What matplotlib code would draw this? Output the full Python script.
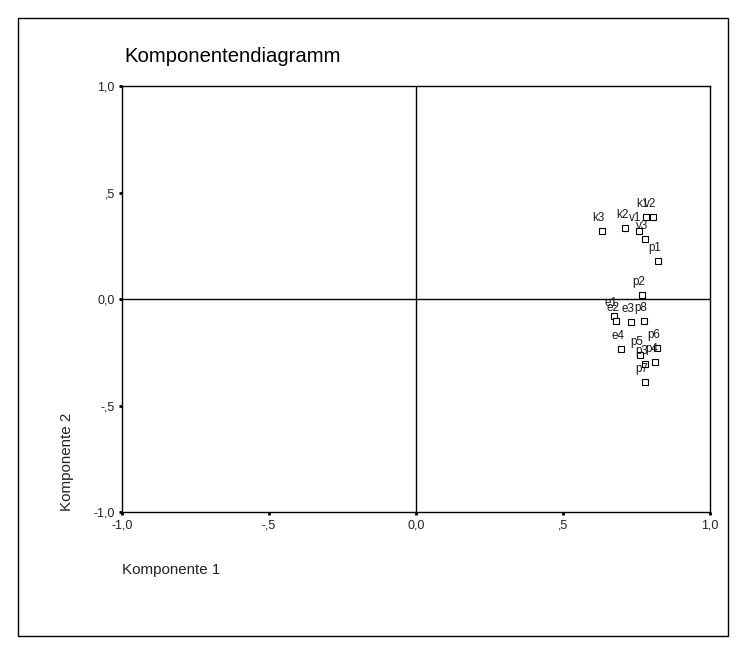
import matplotlib
matplotlib.use("Agg")
import matplotlib.pyplot as plt
from matplotlib.patches import Rectangle

plt.rcParams['font.family'] = ['Liberation Sans', 'DejaVu Sans']

labels = ["k1", "k2", "k3", "v1", "v2", "v3", "p1", "p2", "p3", "p4",
          "p5", "p6", "p7", "p8", "e1", "e2", "e3", "e4"]
comp1 = [0.781, 0.711, 0.632, 0.757, 0.805, 0.779, 0.822, 0.768, 0.778, 0.812,
         0.761, 0.819, 0.778, 0.775, 0.672, 0.681, 0.732, 0.699]
comp2 = [0.385, 0.336, 0.319, 0.319, 0.385, 0.284, 0.180, 0.018, -0.305, -0.297,
         -0.261, -0.228, -0.387, -0.103, -0.080, -0.102, -0.108, -0.233]
ticks = [-1.0, -0.5, 0.0, 0.5, 1.0]
tick_labels = ["-1,0", "-,5", "0,0", ",5", "1,0"]

W, H = 745, 652
fig = plt.figure(figsize=(W / 100, H / 100), dpi=100)
fig.patch.set_facecolor("white")

# outer frame
fig.add_artist(Rectangle((18 / W, 1 - 636 / H), (728 - 18) / W, (636 - 18) / H,
                         transform=fig.transFigure, fill=False, edgecolor="black", lw=1.0))

L, R, T, B = 121.7, 710.0, 86.0, 512.3
ax = fig.add_axes([L / W, 1 - B / H, (R - L) / W, (B - T) / H])
ax.set_xlim(-1, 1)
ax.set_ylim(-1, 1)
for s in ax.spines.values():
    s.set_linewidth(1.0)
    s.set_color("black")
ax.axhline(0, color="black", lw=1.0)
ax.axvline(0, color="black", lw=1.0)

ax.set_xticks(ticks)
ax.set_xticklabels(tick_labels)
ax.set_yticks(ticks)
ax.set_yticklabels(tick_labels)
ax.tick_params(direction="out", length=2.5, width=2, colors="black",
               labelsize=9, pad=2.5, labelcolor="#222222")

ax.plot(comp1, comp2, linestyle="none", marker="s", markersize=4.3,
        markerfacecolor="white", markeredgecolor="black", markeredgewidth=0.8,
        clip_on=False)
for lab, x, y in zip(labels, comp1, comp2):
    ax.annotate(lab, (x, y), xytext=(-3, 10), textcoords="offset pixels",
                ha="center", va="baseline", fontsize=8.4, color="#1a1a1a")

fig.text(124 / W, 1 - 62 / H, "Komponentendiagramm", fontsize=14.6, ha="left",
         va="baseline", color="black")
fig.text(122 / W, 1 - 570 / H, "Komponente 1", fontsize=10.9, ha="left",
         va="center", color="#222222")
fig.text(67.5 / W, 1 - 511 / H, "Komponente 2", fontsize=10.9, ha="center",
         va="bottom", rotation=90, color="#222222")

fig.savefig("out.png", dpi=100)
